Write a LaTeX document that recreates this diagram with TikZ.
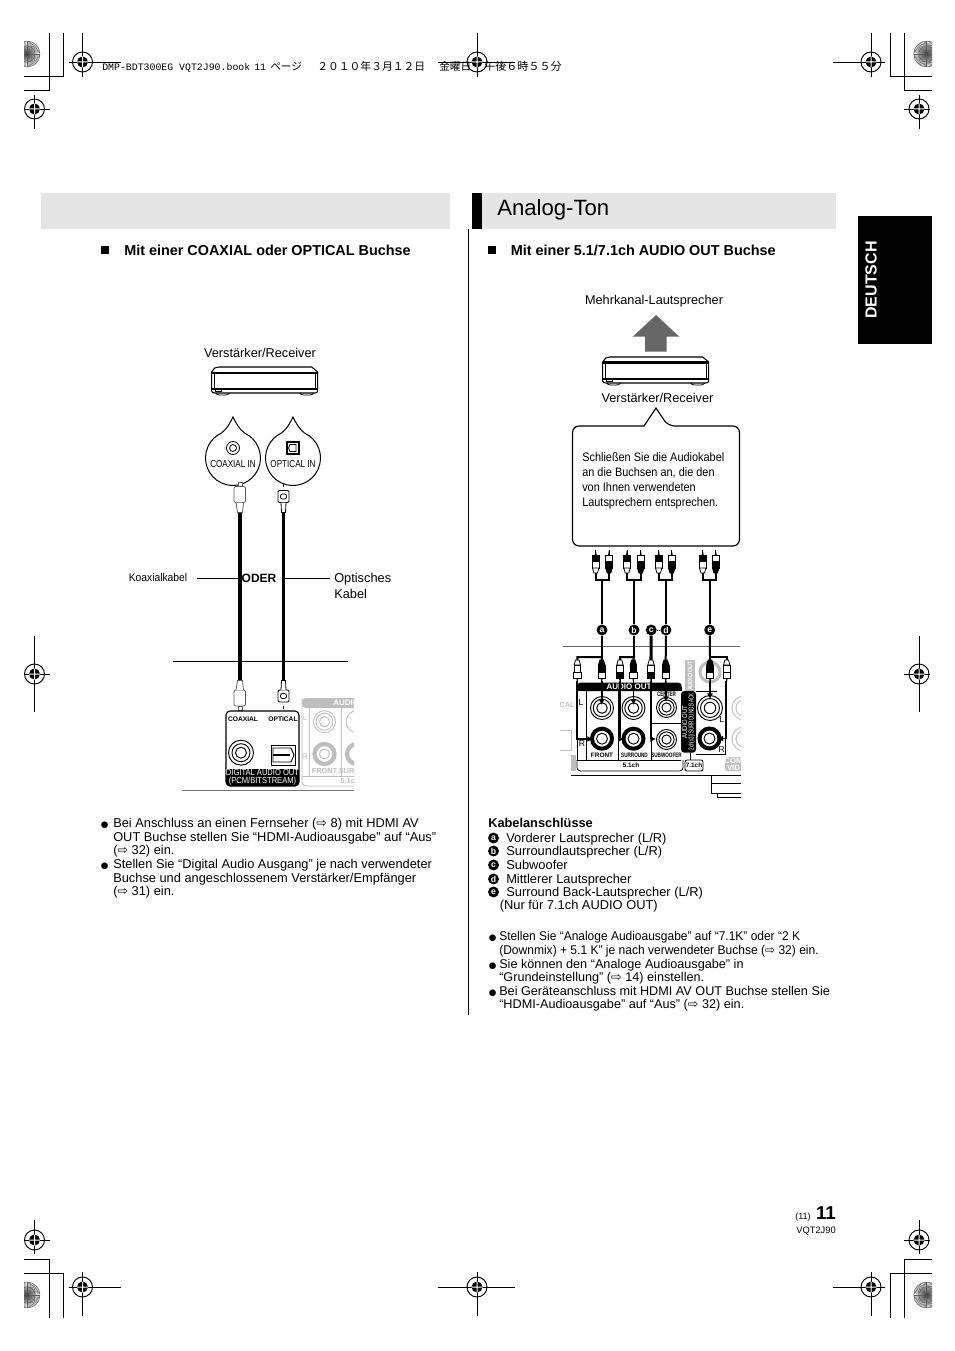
\documentclass[tikz,border=0pt]{standalone}
\usepackage{fontspec}
\usepackage{graphicx}
\setmainfont{Liberation Sans}
\newfontfamily\cjkfont{Noto Sans CJK JP}
\newfontfamily\symfont{DejaVu Sans}
\newfontfamily\monofont{Liberation Mono}
\usetikzlibrary{arrows.meta,positioning,calc}
\definecolor{BarGray}{RGB}{229,229,229}
\definecolor{ArrowGray}{RGB}{102,102,102}
\definecolor{FadeGray}{RGB}{190,190,190}
\newcommand{\fs}[1]{\fontsize{#1}{1.2\dimexpr#1pt\relax}\selectfont}
\newcommand{\seearrow}{{\symfont\fontsize{9.5}{10}\selectfont ⇨}}
\newcommand{\noteball}{{\symfont\fontsize{6.5}{10}\selectfont ●}}
\newcommand{\narrow}[2]{\scalebox{#1}[1]{#2}}
\tikzset{
  bodytxt/.style={inner sep=0pt, align=left, font=\fontsize{9.5}{10.2}\selectfont, anchor=north west},
  rowtxt/.style={inner sep=0pt, font=\fs{9.65}, anchor=base west},
  headtxt/.style={inner sep=0pt, font=\bfseries\fs{10.8}, anchor=base west},
  hdrtxt/.style={inner sep=0pt, anchor=base west},
  tag/.style={circle, fill=black, text=white, inner sep=0pt, minimum size=8.2pt, font=\bfseries\fs{6.5}},
  panelline/.style={line width=0.6pt},
  paneltxt/.style={inner sep=0pt, font=\bfseries\fs{4.8}},
  fadetxt/.style={inner sep=0pt, font=\bfseries\fs{5.5}, text=FadeGray},
  cable/.style={line width=2.3pt},
  ycable/.style={line width=1.5pt},
  feed/.style={line width=1.4pt, -{Latex[length=1.5mm,width=1.6mm]}},
  pics/regmark/.style n args={4}{code={
    \draw[line width=0.7pt] (0,0) circle (10);
    \fill (0,0) circle (5.5);
    \draw[line width=0.7pt] (#1,0) -- (#2,0) (0,#3) -- (0,#4);
    \fill[white] (0,0) +(-0.5,-5.5) rectangle +(0.5,5.5) +(-5.5,-0.5) rectangle +(5.5,0.5);
  }},
  pics/moon/.style={code={
    \foreach \a in {0,6,...,354} {\draw[line width=0.35pt, black!65] (0,0) -- (\a:13);}
    \draw[line width=0.35pt, black!60] (0,0) circle (4) (0,0) circle (8) (0,0) circle (13);
    \fill[black!70] (0,0) circle (2);
  }},
  pics/receiver/.style={code={
    \draw[line width=0.8pt, fill=white] (3,1) -- (7,0) -- (100,0) -- (106,5) -- (106,24)
      to[out=-90,in=0] (103,26) -- (3,26) to[out=180,in=-90] (0,24) -- (0,5) -- cycle;
    \draw[line width=1.1pt] (0,6) -- (106,6);
    \draw[line width=0.5pt] (2.5,6) -- (2.5,22) (103.5,6) -- (103.5,22);
    \draw[line width=1pt] (0,22) -- (106,22);
    \draw[line width=0.6pt] (4,22) rectangle (10,24);
    \draw[line width=0.6pt] (4,26) to[out=-60,in=180] (8,28) -- (13,28) to[out=0,in=-120] (18,26);
    \draw[line width=0.6pt] (88,26) to[out=-60,in=180] (92,28) -- (98,28) to[out=0,in=-120] (102,26);
  }},
  pics/bubble/.style={code={
    \draw[line width=0.75pt, fill=white] (-65:27.5) arc[start angle=-65, end angle=245, radius=27.5]
      .. controls (-6,-29) and (-3,-35) .. (0,-41) .. controls (3,-35) and (6,-29) .. cycle;
  }},
  pics/rcaplug/.style n args={2}{code={
    \draw[line width=0.5pt] (0,-5) -- (0,0);
    \fill (-1,0) -- (0,-5) -- (1,0) -- cycle;
    \draw[line width=0.6pt, fill=#1] (-3.7,0) rectangle (3.7,6);
    \draw[line width=0.6pt, fill=#2] (-3.2,6) rectangle (3.2,13);
    \draw[line width=0.6pt, fill=#2] (-3.2,13) -- (-1.8,18) -- (1.8,18) -- (3.2,13) -- cycle;
  }},
  pics/jack/.style={code={
    \draw[line width=0.7pt] (0,0) circle (#1) (0,0) circle ({#1*0.76}) (0,0) circle ({#1*0.46});
  }},
  pics/jack/.default=11.5,
  pics/thickjack/.style={code={
    \draw[line width=3pt] (0,0) circle (10);
    \draw[line width=0.7pt] (0,0) circle (5.5);
  }},
  x=0.75pt, y=-0.75pt
}

\begin{document}
\begin{tikzpicture}
  \useasboundingbox (0,0) rectangle (954,1351);

  % moons and crop lines
  \begin{scope}
    \clip (24,30) rectangle (932,1320);
    \pic at (27,54) {moon}; \pic at (926.7,54) {moon};
    \pic at (27,1295) {moon}; \pic at (926.7,1295) {moon};
  \end{scope}
  \draw[line width=0.75pt] (63,33) -- (63,77) -- (24,77) (49.5,33) -- (49.5,91) -- (24,91);
  \draw[line width=0.75pt] (890,33) -- (890,77) -- (932,77) (904,33) -- (904,91) -- (932,91);
  \draw[line width=0.75pt] (63,1318) -- (63,1273) -- (24,1273) (49.5,1318) -- (49.5,1259) -- (24,1259);
  \draw[line width=0.75pt] (890.7,1318) -- (890.7,1273) -- (932,1273) (904,1318) -- (904,1259) -- (932,1259);
  \pic at (82.5,62) {regmark={-14}{38}{-29}{15}};
  \pic at (477,62) {regmark={-39}{38}{-29}{15}};
  \pic at (871,62) {regmark={-38}{14}{-29}{15}};
  \pic at (34.5,109) {regmark={-10}{15}{-14}{20}};
  \pic at (919,109) {regmark={-15}{11}{-14}{20}};
  \pic at (34.5,674) {regmark={-10}{15}{-38}{38}};
  \pic at (919,674) {regmark={-15}{11}{-38}{38}};
  \pic at (34.5,1240) {regmark={-10}{15}{-20}{14}};
  \pic at (919,1240) {regmark={-15}{11}{-20}{14}};
  \pic at (82.5,1287) {regmark={-14}{38}{-15}{29}};
  \pic at (477,1287) {regmark={-39}{38}{-15}{29}};
  \pic at (871,1287) {regmark={-38}{14}{-15}{29}};
  \node[hdrtxt, font=\fs{7.4}\monofont] (bookline) at (102,71) {DMP-BDT300EG VQT2J90.book};
  \node[hdrtxt, font=\fs{7.4}\monofont] (bookpage) at (254,71) {11};
  \node[hdrtxt, font=\fs{8}\cjkfont] (bookkana) at (270,71) {ページ};
  \node[hdrtxt, font=\fs{8.1}\cjkfont] (bookdate) at (317,71) {２０１０年３月１２日};
  \node[hdrtxt, font=\fs{8}\cjkfont] (bookday) at (439,71) {金曜日};
  \node[hdrtxt, font=\fs{8.3}\cjkfont] (booktime) at (484,71) {午後６時５５分};

  % title bars
  \fill[BarGray] (41,193) rectangle (450,229);
  \fill[BarGray] (472,193) rectangle (836,229);
  \fill (472,193) rectangle (482,229);
  \node[inner sep=0pt, anchor=base west, font=\fs{16.6}] (title) at (497,216) {Analog-Ton};
  \draw[line width=0.75pt] (468,229) -- (468,1015);
  \fill (858,216) rectangle (932,344);
  \node[rotate=90, text=white, inner sep=0pt, font=\bfseries\fs{12}] (language) at (871,280) {DEUTSCH};

  \fill (101,246) rectangle (109,254);
  \node[headtxt] (headleft) at (124,256) {Mit einer COAXIAL oder OPTICAL Buchse};
  \fill (488,246) rectangle (496,254);
  \node[headtxt] (headright) at (510.5,256) {Mit einer 5.1/7.1ch AUDIO OUT Buchse};

  % left diagram
  \node[inner sep=0pt, font=\fs{9.55}] (ampleftlabel) at (260,353) {Verstärker/Receiver};
  \pic at (211.7,367) {receiver};
  \pic at (233,458) {bubble};
  \pic at (293,458) {bubble};
  \draw[line width=0.6pt] (233,448) circle (6.5) (233,448) circle (3.5);
  \draw[line width=0.8pt] (287,442) rectangle (299,454);
  \draw[line width=0.6pt] (290,444.5) -- (296,444.5) -- (296,451.5) -- (290,451.5) -- (288.5,448) -- cycle;
  \node[inner sep=0pt, font=\fs{7.6}] (coaxin) at (233,464) {\narrow{.8}{COAXIAL IN}};
  \node[inner sep=0pt, font=\fs{7.6}] (optin) at (293,464) {\narrow{.8}{OPTICAL IN}};

  \coordinate (coaxtop) at (240,512);
  \coordinate (coaxbot) at (240,681);
  \coordinate (opttop) at (283.5,512);
  \coordinate (optbot) at (283.5,681);
  \draw[cable] (coaxtop) -- (coaxbot);
  \draw[cable] (opttop) -- (optbot);
  \foreach \ty/\fy/\ey in {486.5/1/512.5, 706/-1/680.5} {
    \draw[line width=0.6pt, draw=black!65, fill=white] (238,\ty-4*\fy) rectangle (242,\ty);
    \draw[line width=0.6pt, draw=black!65, fill=white, rounded corners=1pt] (234,\ty) rectangle (245.5,\ty+16*\fy);
    \draw[line width=0.6pt, draw=black!65, fill=white] (236,\ty+16*\fy) -- (237.5,\ey) -- (242.5,\ey) -- (243.5,\ty+16*\fy);
    \draw[line width=0.6pt] (283.5,\ty) -- (283.5,\ty-3*\fy);
    \draw[line width=0.7pt, fill=white, rounded corners=1pt] (278,\ty+4*\fy) rectangle (289,\ty+16*\fy);
    \draw[line width=0.6pt, rounded corners=1.5pt] (280.5,\ty+7.5*\fy) rectangle (286.5,\ty+12.5*\fy);
    \draw[line width=0.6pt, fill=white] (281,\ty+16*\fy) -- (281.5,\ey) -- (285.5,\ey) -- (286,\ty+16*\fy);
  }
  \node[inner sep=0pt, font=\fs{8.4}] (coaxlabel) at (158,577) {\narrow{.92}{Koaxialkabel}};
  \node[inner sep=0pt, font=\bfseries\fs{9}] (oder) at (259,578.5) {ODER};
  \node[inner sep=0pt, font=\fs{9.6}, align=left, anchor=west] (optlabel) at (334,586) {Optisches\\[0.2pt]Kabel};
  \coordinate (coaxlead) at (240,578);
  \coordinate (optlead) at (283.5,578);
  \coordinate (coaxlabelend) at (197,578);
  \coordinate (optlabelend) at (330,578);
  \draw[line width=0.6pt] (coaxlabelend) -- (coaxlead);
  \draw[line width=0.6pt] (optlead) -- (optlabelend);
  \draw[line width=0.75pt] (173,661) -- (348,661);
  \draw[line width=0.75pt, black!55] (182,790.5) -- (354,790.5);

  % faded audio out panel
  \begin{scope}
    \clip (300,695) rectangle (354,790);
    \draw[FadeGray, line width=0.7pt, rounded corners=3pt] (302,698) -- (302,786) -- (360,786);
    \draw[FadeGray, line width=0.7pt, rounded corners=3pt] (302,776) -- (360,776);
    \fill[FadeGray, rounded corners=3pt] (302,698) rectangle (360,708);
    \node[inner sep=0pt, anchor=west, text=white, font=\bfseries\fs{6}] (audfade) at (333,703) {AUDIO};
    \draw[FadeGray, line width=0.7pt] (309,708) -- (309,776) (341,708) -- (341,776);
    \draw[FadeGray, line width=0.7pt] (324.5,721.7) circle (11) (324.5,721.7) circle (8.5) (324.5,721.7) circle (5);
    \draw[FadeGray, line width=3.2pt] (324.5,754) circle (10);
    \draw[FadeGray, line width=0.7pt] (324.5,754) circle (5);
    \draw[FadeGray, line width=0.7pt] (357,721.7) circle (11);
    \draw[FadeGray, line width=3.2pt] (357,754) circle (10);
    \node[fadetxt] (frontfade) at (324.5,770.5) {FRONT};
    \node[fadetxt] (surfade) at (360,770.5) {SURROUND};
    \node[fadetxt] (chfade) at (350,781) {5.1ch};
    \node[inner sep=0pt, text=FadeGray, font=\fs{6}] (lfade) at (305,718) {L};
    \node[inner sep=0pt, text=FadeGray, font=\fs{6}] (rfade) at (305,757) {R};
  \end{scope}

  % digital audio out
  \draw[line width=0.8pt, fill=white, rounded corners=3pt] (226,711) rectangle (299,786);
  \fill[rounded corners=3pt] (226,769) -- (226,786) -- (299,786) -- (299,769) -- cycle;
  \fill (226,769) rectangle (299,775);
  \node[paneltxt, font=\bfseries\fs{5}] (coaxpanel) at (243,719) {COAXIAL};
  \node[paneltxt, font=\bfseries\fs{5}] (optpanel) at (283,719.5) {OPTICAL};
  \draw[line width=0.7pt] (241,752.7) circle (12.5) (241,752.7) circle (9) (241,752.7) circle (5.5);
  \draw[line width=0.7pt] (271.7,745) rectangle (295,765);
  \draw[line width=0.7pt] (273,748) -- (291,748) -- (294,755) -- (291,762) -- (273,762) -- cycle;
  \draw[line width=0.9pt] (273,755) -- (290,755);
  \node[inner sep=0pt, text=white, font=\fs{6.6}, align=center] (digital) at (262.5,777.5)
    {\narrow{.86}{DIGITAL AUDIO OUT}\\[-2.4pt]\narrow{.86}{(PCM/BITSTREAM)}};

  \node[bodytxt, font=\fontsize{9.62}{10.25}\selectfont] (noteleft) at (113,818)
    {\llap{\noteball\hspace{3.6pt}}Bei Anschluss an einen Fernseher (\seearrow\ 8) mit HDMI AV\\
     OUT Buchse stellen Sie “HDMI-Audioausgabe” auf “Aus”\\
     (\seearrow\ 32) ein.\\
     \llap{\noteball\hspace{3.6pt}}Stellen Sie “Digital Audio Ausgang” je nach verwendeter\\
     Buchse und angeschlossenem Verstärker/Empfänger\\
     (\seearrow\ 31) ein.};

  % right diagram
  \node[inner sep=0pt, font=\fs{9.55}] (speakerlabel) at (654,301) {Mehrkanal-Lautsprecher};
  \fill[ArrowGray] (656,315) -- (679.3,336.7) -- (666.7,336.7) -- (666.7,351.7) -- (645,351.7) -- (645,336.7) -- (632.7,336.7) -- cycle;
  \pic at (602.7,357) {receiver};
  \fill (603,361.5) rectangle (708.7,363.5);
  \node[inner sep=0pt, font=\fs{9.55}] (amprightlabel) at (657.5,398) {Verstärker/Receiver};
  \draw[line width=0.85pt] (644,426) [rounded corners=5pt] -- (572.5,426) -- (572.5,546) -- (739.5,546) -- (739.5,426) -- (668,426)
    [sharp corners] -- (656,408) -- cycle;
  \node[bodytxt, font=\fs{9.2}, align=left] (notebox) at (582,452)
    {\narrow{.89}{Schließen Sie die Audiokabel}\\[0.4pt]
     \narrow{.89}{an die Buchsen an, die den}\\[0.4pt]
     \narrow{.89}{von Ihnen verwendeten}\\[0.4pt]
     \narrow{.89}{Lautsprechern entsprechen.}};

  % faded parts beside the 5.1/7.1 panel
  \begin{scope}
    \clip (560,660) rectangle (741,772);
    \fill[FadeGray] (685,660) rectangle (695,691);
    \draw[FadeGray, line width=2.3pt] (710,672) circle (10);
    \node[rotate=90, inner sep=0pt, text=white, font=\bfseries\fs{5}] (outfade) at (690,676) {\narrow{.8}{AUDIO OUT}};
    \node[fadetxt] (calfade) at (567,705) {CAL};
    \draw[FadeGray, line width=0.7pt] (560,730) -- (571,730) -- (571,750) -- (560,750);
    \fill[FadeGray] (571,755) rectangle (576,771);
    \draw[FadeGray, line width=0.7pt] (744,708) circle (12) (744,708) circle (8);
    \draw[FadeGray, line width=0.7pt] (744,739) circle (12) (744,739) circle (8);
    \fill[FadeGray, rounded corners=2pt] (725,757) rectangle (750,771);
    \node[inner sep=0pt, text=white, align=center, font=\bfseries\fs{5.8}] (compfade) at (733.5,764) {COM\\[-1.5pt]VID};
  \end{scope}

  % 5.1 panel
  \fill[rounded corners=2.5pt] (577,691) -- (577,682.7) -- (681.7,682.7) -- (681.7,691) -- cycle;
  \fill (577,687) rectangle (681.7,691);
  \node[inner sep=0pt, text=white, font=\bfseries\fs{6}] (audioout) at (629,687) {AUDIO OUT};
  \draw[panelline] (577,691) -- (577,760) (586,691) -- (586,760) (618,691) -- (618,760) (651.5,691) -- (651.5,760);
  \draw[panelline] (577,760) -- (681,760) (651.5,723) -- (681,723);
  \fill[rounded corners=2.5pt] (681,691) rectangle (696,752.7);
  \draw[panelline] (696,691) -- (717,691) (690,752.7) -- (690,760) (696,754) -- (725.7,754) (725.7,691) -- (725.7,754);
  \node[rotate=90, inner sep=0pt, text=white, align=center, font=\fs{5.4}] (out71) at (688.7,722)
    {\narrow{.82}{AUDIO OUT}\\[-1.6pt]\narrow{.64}{2ch(x3)/SURROUND BACK}};
  \node[inner sep=0pt, font=\fs{6.5}] (frontl) at (581,703) {L};
  \node[inner sep=0pt, font=\fs{6.5}] (frontr) at (582,744) {R};
  \node[inner sep=0pt, font=\fs{6.5}] (backl) at (721.7,720) {L};
  \node[inner sep=0pt, font=\fs{6.5}] (backr) at (721.7,750) {R};
  \pic at (602,708) {jack};
  \pic at (633.5,708) {jack};
  \pic at (666.5,707.5) {jack=10};
  \pic at (710,708) {jack=12.5};
  \pic at (602,738.7) {thickjack};
  \pic at (633.5,738.7) {thickjack};
  \pic at (666.5,739.5) {jack=10};
  \pic at (709.5,738.5) {thickjack};
  \node[paneltxt] (front) at (602,755.7) {FRONT};
  \node[paneltxt] (surround) at (634.5,755.7) {\narrow{.72}{SURROUND}};
  \node[paneltxt] (subwoofer) at (666.5,755.7) {\narrow{.72}{SUBWOOFER}};
  \node[paneltxt] (cen) at (666.5,694) {\narrow{.72}{CENTER}};
  \draw[panelline, rounded corners=2.5pt] (577,760) -- (577,771) -- (683,771) -- (683,760);
  \node[paneltxt] (ch51) at (631,765.5) {5.1ch};
  \draw[panelline, rounded corners=1.5pt] (685,760) rectangle (703,771);
  \node[paneltxt] (ch71) at (694,765.5) {7.1ch};

  % plugs and cables
  \draw[line width=0.75pt, black!60] (563,646.5) -- (740,646.5);
  \foreach \px/\qx/\mx/\stem in {595.7/609/602/a, 627/640.7/634/b, 658.7/671.7/666/d, 702.7/715.7/709.7/e} {
    \pic at (\px,555) {rcaplug={black}{white}};
    \pic at (\qx,555) {rcaplug={white}{black}};
    \coordinate (yl\stem) at (\px,573);
    \coordinate (yr\stem) at (\qx,573);
    \coordinate (ym\stem) at (\mx,580);
    \draw[ycable] (yl\stem) -- (\px,580) -- (\qx,580) -- (yr\stem);
  }
  \node[tag] (taga) at (602,630) {a};
  \node[tag] (tagb) at (634,630) {b};
  \node[tag] (tagc) at (651.2,630) {c};
  \node[tag] (tagd) at (666,630) {d};
  \node[tag] (tage) at (709.7,630) {e};
  \draw[densely dotted, line width=0.5pt] (tagc) -- (tagd);
  \foreach \tagname in {a,b,d,e} {\draw[ycable] (ym\tagname) -- (tag\tagname);}

  \foreach \fx/\up/\lo in {577.3/white/white, 601.7/black/white, 620/white/black, 633.3/black/white, 651/white/black, 665.7/black/white, 710/black/white, 726.7/white/white} {
    \pic[yscale=-1] at (\fx,678) {rcaplug={\lo}{\up}};
  }
  \coordinate (droplf) at (577.3,660);
  \coordinate (droprf) at (601.7,660);
  \coordinate (dropls) at (620,660);
  \coordinate (droprs) at (633.3,660);
  \coordinate (dropc) at (651,660);
  \coordinate (dropd) at (665.7,660);
  \coordinate (dropbl) at (710,660);
  \coordinate (dropbr) at (726.7,660);
  \draw[ycable] (droplf) -- (577.3,657) -- (602,657) -- (droprf);
  \draw[ycable] (taga) -- (602,657);
  \draw[ycable] (dropls) -- (620,657) -- (634,657) -- (droprs);
  \draw[ycable] (tagb) -- (634,657);
  \draw[cable] (tagc) -- (dropc);
  \draw[ycable] (tagd) -- (dropd);
  \draw[ycable] (dropbl) -- (710,657) -- (726.7,657) -- (dropbr);
  \draw[ycable] (tage) -- (710,657);
  \coordinate (jackfrontl) at (601.7,705);
  \coordinate (jacksurl) at (633.5,705);
  \coordinate (jackcen) at (666,702);
  \coordinate (jackbackl) at (710,699);
  \draw[feed] (601.7,681) -- (jackfrontl);
  \draw[feed] (633.5,681) -- (jacksurl);
  \draw[feed] (665.7,681) -- (jackcen);
  \draw[feed] (710,681) -- (jackbackl);
  \draw[feed, line width=1.7pt] (577.3,681) -- (577.3,739) -- (593,739);
  \draw[feed] (620,681) -- (620,739) -- (624,739);
  \draw[feed] (651,681) -- (651,739) -- (656,739);
  \draw[feed] (725.7,681) -- (725.7,738.5) -- (717.5,738.5);

  % bottom of the player
  \draw[line width=0.75pt] (571,775) -- (741,775);
  \draw[line width=0.75pt] (711.7,775) -- (711.7,793) -- (741,793) (711.7,783) -- (741,783) (717,793) -- (717,797) -- (741,797);

  % cable list
  \node[rowtxt, font=\bfseries\fs{9.6}] (listhead) at (488,827) {Kabelanschlüsse};
  \foreach \tagname/\ty/\txt in {a/838/{Vorderer Lautsprecher (L/R)}, b/851/{Surroundlautsprecher (L/R)},
      c/865/{Subwoofer}, d/879/{Mittlerer Lautsprecher}, e/892/{Surround Back-Lautsprecher (L/R)}} {
    \node[tag] (key\tagname) at (493.5,\ty) {\tagname};
    \node[rowtxt] (txt\tagname) at (506,\ty+4.5) {\txt};
  }
  \node[rowtxt] (only71) at (499.5,909.5) {(Nur für 7.1ch AUDIO OUT)};

  \node[bodytxt] (noteright) at (499,931.5)
    {\llap{\noteball\hspace{2.2pt}}\narrow{.945}{Stellen Sie “Analoge Audioausgabe” auf “7.1K” oder “2 K}\\
     \narrow{.95}{(Downmix) + 5.1 K” je nach verwendeter Buchse (\seearrow\ 32) ein.}\\
     \llap{\noteball\hspace{2.2pt}}Sie können den “Analoge Audioausgabe” in\\
     “Grundeinstellung” (\seearrow\ 14) einstellen.\\
     \llap{\noteball\hspace{2.2pt}}Bei Geräteanschluss mit HDMI AV OUT Buchse stellen Sie\\
     “HDMI-Audioausgabe” auf “Aus” (\seearrow\ 32) ein.};

  % page number
  \node[inner sep=0pt, anchor=base west, font=\fs{6.8}] (pagesmall) at (795,1219) {(11)};
  \node[inner sep=0pt, anchor=base east, font=\bfseries\fs{14}] (pagebig) at (836,1219.5) {11};
  \node[inner sep=0pt, anchor=base east, font=\fs{7}] (docnumber) at (836,1233.5) {VQT2J90};
\end{tikzpicture}
\end{document}
